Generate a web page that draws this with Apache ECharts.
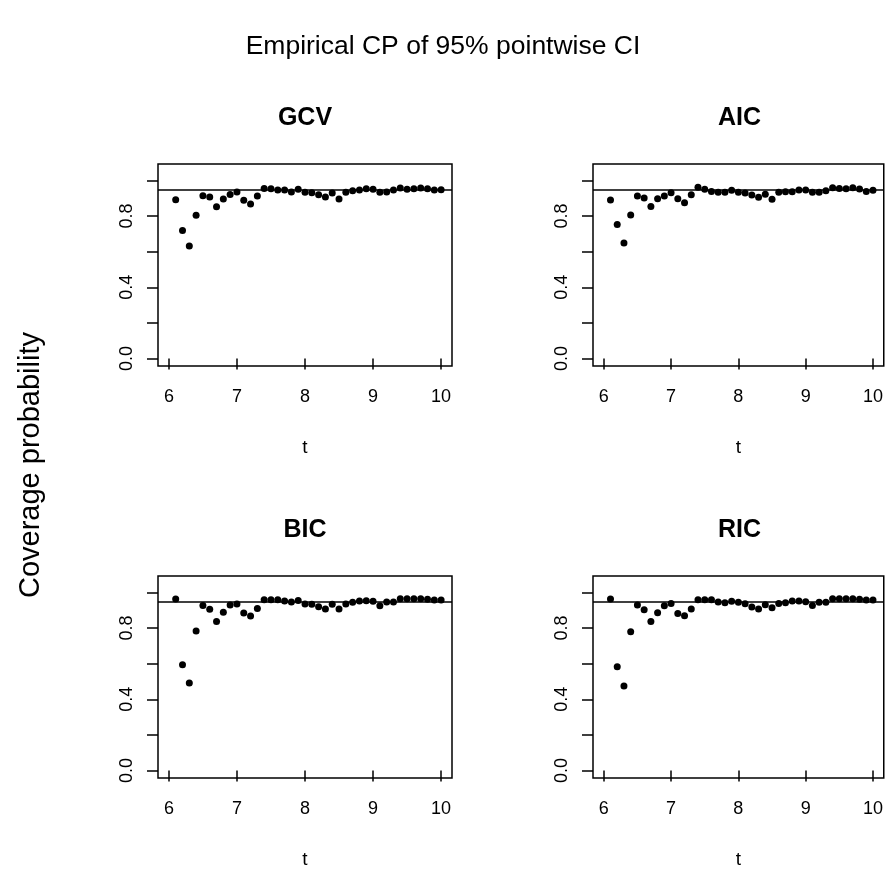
<!DOCTYPE html>
<html>
<head>
<meta charset="utf-8">
<script src="https://cdn.jsdelivr.net/npm/echarts@6/dist/echarts.min.js"></script>
<style>
html,body{margin:0;padding:0;background:#fff;}
#chart{width:886px;height:871px;}
</style>
</head>
<body>
<div id="chart"></div>
<script>
// ---- data ----
const t = [6.1,6.2,6.3,6.4,6.5,6.6,6.7,6.8,6.9,7.0,
           7.1,7.2,7.3,7.4,7.5,7.6,7.7,7.8,7.9,8.0,
           8.1,8.2,8.3,8.4,8.5,8.6,8.7,8.8,8.9,9.0,
           9.1,9.2,9.3,9.4,9.5,9.6,9.7,9.8,9.9,10.0];
const gcv = [0.892,0.718,0.632,0.804,0.914,0.907,0.852,0.895,0.921,0.935,
             0.888,0.867,0.912,0.955,0.953,0.946,0.946,0.935,0.950,0.933,
             0.931,0.920,0.907,0.929,0.895,0.933,0.942,0.946,0.953,0.950,
             0.933,0.935,0.946,0.957,0.950,0.953,0.957,0.953,0.946,0.948];
const aic = [0.890,0.753,0.649,0.806,0.912,0.901,0.854,0.897,0.912,0.931,
             0.897,0.875,0.920,0.961,0.950,0.938,0.933,0.933,0.944,0.933,
             0.929,0.918,0.905,0.922,0.894,0.933,0.936,0.936,0.946,0.946,
             0.933,0.933,0.942,0.959,0.955,0.953,0.959,0.951,0.938,0.944];
const bic = [0.963,0.594,0.492,0.783,0.927,0.905,0.836,0.888,0.929,0.935,
             0.884,0.867,0.910,0.959,0.959,0.959,0.951,0.946,0.955,0.935,
             0.933,0.920,0.907,0.933,0.907,0.935,0.944,0.951,0.953,0.950,
             0.925,0.946,0.946,0.964,0.964,0.964,0.964,0.961,0.957,0.957];
const ric = [0.963,0.583,0.475,0.779,0.929,0.903,0.836,0.886,0.925,0.938,
             0.882,0.869,0.907,0.959,0.959,0.959,0.946,0.942,0.950,0.944,
             0.936,0.918,0.907,0.931,0.914,0.938,0.942,0.951,0.951,0.948,
             0.927,0.944,0.944,0.964,0.964,0.964,0.964,0.961,0.957,0.957];
const panelNames = ['GCV','AIC','BIC','RIC'];
const panelSeries = [gcv, aic, bic, ric];
const xTicks = [6,7,8,9,10];
const yTicks = [0,0.2,0.4,0.6,0.8,1.0];
const yLabels = [0,0.4,0.8];
const nominal = 0.95;
const mainTitle = 'Empirical CP of 95% pointwise CI';
const yTitle = 'Coverage probability';
const xTitle = 't';

// ---- layout ----
const FONT = '"Liberation Sans", Arial, Helvetica, sans-serif';
const grids = [
  {left:158, top:164, width:294, height:202},
  {left:593, top:164, width:293, height:202},
  {left:158, top:576, width:294, height:202},
  {left:593, top:576, width:293, height:202}
];

const chart = echarts.init(document.getElementById('chart'), null, {renderer:'canvas'});

const titles = [{
  text: mainTitle, left: 'center', top: 33, padding: 0,
  textStyle: {fontFamily: FONT, fontSize: 26.5, fontWeight: 'normal', color: '#000'}
}];
panelNames.forEach((n, i) => {
  const g = grids[i];
  titles.push({
    text: n, left: g.left + g.width / 2, top: g.top - 58, padding: 0,
    textAlign: 'center',
    textStyle: {fontFamily: FONT, fontSize: 25, fontWeight: 'bold', color: '#000'}
  });
});

const option = {
  animation: false,
  backgroundColor: '#fff',
  title: titles,
  grid: grids.map(g => Object.assign({show: true, borderColor: '#000', borderWidth: 1.5, backgroundColor: 'transparent'}, g)),
  xAxis: grids.map((g, i) => ({
    type: 'value', gridIndex: i, min: 5.84, max: 10.16,
    name: xTitle, nameLocation: 'middle', nameGap: 72,
    nameTextStyle: {fontFamily: FONT, fontSize: 19, color: '#000'},
    axisLine: {show: false},
    axisTick: {show: true, length: 11, customValues: xTicks, lineStyle: {color: '#000', width: 1.5}},
    axisLabel: {show: true, customValues: xTicks, margin: 22, fontFamily: FONT, fontSize: 18, color: '#000'},
    splitLine: {show: false}
  })),
  yAxis: grids.map((g, i) => ({
    type: 'value', gridIndex: i, min: -0.042, max: 1.092,
    axisLine: {show: false},
    axisTick: {show: true, length: 11, customValues: yTicks, lineStyle: {color: '#000', width: 1.5}},
    axisLabel: {show: true, customValues: yLabels, rotate: 90, margin: 22, fontFamily: FONT, fontSize: 18, color: '#000',
                formatter: v => Number(v).toFixed(1)},
    splitLine: {show: false}
  })),
  graphic: [{
    type: 'text', x: 31, y: 465, rotation: Math.PI / 2,
    style: {text: yTitle, fontFamily: FONT, fontSize: 29, fill: '#000', align: 'center', verticalAlign: 'middle'}
  }],
  series: panelSeries.map((arr, i) => ({
    type: 'scatter', xAxisIndex: i, yAxisIndex: i,
    data: t.map((x, k) => [x, arr[k]]),
    symbol: 'circle', symbolSize: 7,
    itemStyle: {color: '#000', opacity: 1},
    silent: true,
    markLine: {
      silent: true, symbol: 'none', label: {show: false},
      lineStyle: {color: '#000', width: 1.5, type: 'solid'},
      data: [{yAxis: nominal}]
    }
  }))
};
chart.setOption(option);
</script>
</body>
</html>
